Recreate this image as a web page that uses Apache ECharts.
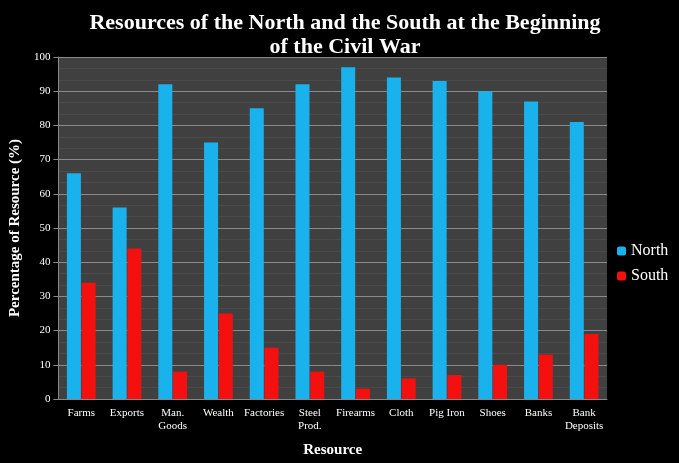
<!DOCTYPE html><html><head><meta charset="utf-8">
<script src="https://cdn.jsdelivr.net/npm/echarts@6/dist/echarts.min.js"></script>
<style>html,body{margin:0;background:#000}#c{width:679px;height:463px}</style></head><body><div id="c"></div>
<script>
const categories=['Farms','Exports','Man.\nGoods','Wealth','Factories','Steel\nProd.','Firearms','Cloth','Pig Iron','Shoes','Banks','Bank\nDeposits'];
const north=[66,56,92,75,85,92,97,94,93,90,87,81];
const south=[34,44,8,25,15,8,3,6,7,10,13,19];
const font='"Liberation Serif", "DejaVu Serif", serif';
const c=echarts.init(document.getElementById('c'));
c.setOption({
 backgroundColor:'#000',
 title:{text:'Resources of the North and the South at the Beginning\nof the Civil War',left:340,top:6,textAlign:'center',textStyle:{color:'#fff',fontFamily:font,fontSize:22,fontWeight:'bold',lineHeight:24}},
 legend:{orient:'vertical',left:612,top:238,itemWidth:9,itemHeight:9,itemGap:9,textStyle:{color:'#fff',fontFamily:font,fontSize:16},data:['North','South']},
 grid:{left:52,right:72,top:57,bottom:63,show:true,backgroundColor:'#404040',borderWidth:0},
 xAxis:{type:'category',data:categories,name:'Resource',nameLocation:'middle',nameGap:44,nameTextStyle:{color:'#fff',fontFamily:font,fontSize:15,fontWeight:'bold'},
  axisLine:{lineStyle:{color:'#888'}},axisTick:{lineStyle:{color:'#888'}},axisLabel:{color:'#fff',fontFamily:font,fontSize:11,interval:0,lineHeight:13}},
 yAxis:{type:'value',min:0,max:100,interval:10,name:'Percentage of Resource (%)',nameLocation:'middle',nameGap:32,nameTextStyle:{color:'#fff',fontFamily:font,fontSize:15,fontWeight:'bold'},
  axisLine:{show:true,lineStyle:{color:'#888'}},axisTick:{show:true,lineStyle:{color:'#888'}},axisLabel:{color:'#fff',fontFamily:font,fontSize:11},
  splitLine:{lineStyle:{color:'#8a8a8a',width:1}},minorTick:{show:false,splitNumber:3},minorSplitLine:{show:true,lineStyle:{color:'#4a4a4a'}}},
 series:[
  {name:'North',type:'bar',data:north,barWidth:14,barGap:'5%',itemStyle:{color:'#1ab2ec'}},
  {name:'South',type:'bar',data:south,barWidth:14,itemStyle:{color:'#f51010'}}
 ]
});
</script></body></html>
